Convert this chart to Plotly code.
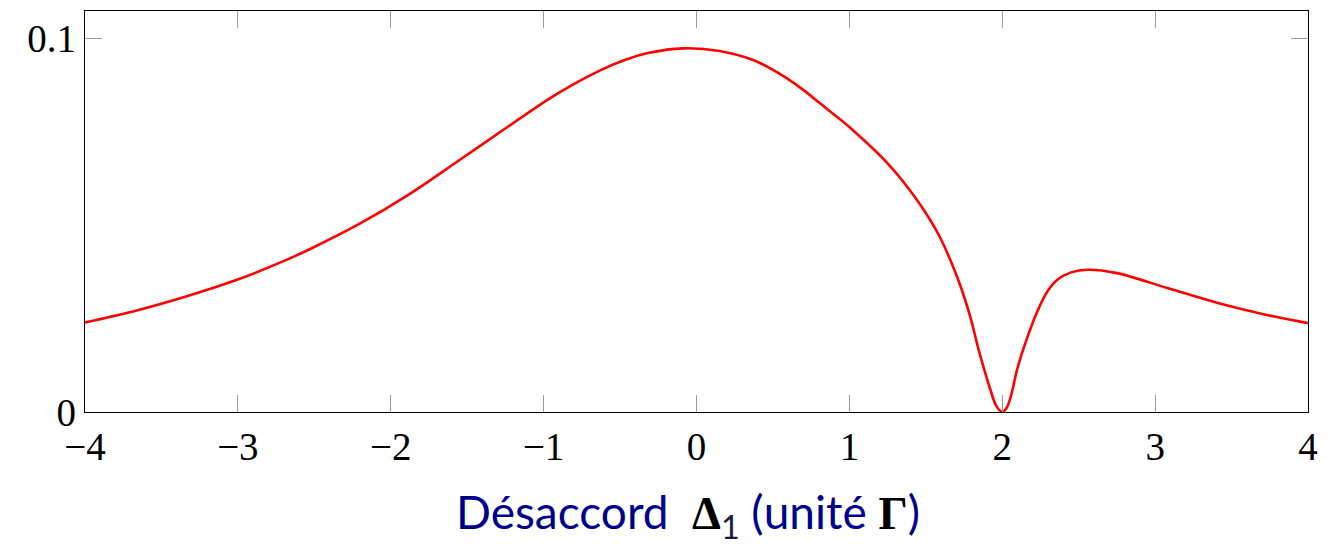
import plotly.graph_objects as go

# Detuning (units of Gamma) and absorption values along the probe scan
detuning = [-4.00, -3.68, -3.35, -3.02, -2.69, -2.50, -2.20, -1.88, -1.55, -1.22,
            -0.96, -0.80, -0.63, -0.47, -0.31, -0.09, 0.15, 0.37, 0.48, 0.59, 0.70, 0.81, 0.92, 1.02,
            1.25, 1.44, 1.59, 1.72, 1.79, 1.85, 1.92, 1.96, 2.00,
            2.03, 2.06, 2.10, 2.16, 2.23, 2.30, 2.36, 2.45, 2.56, 2.75, 3.08, 3.41, 3.73, 4.00]
absorption = [0.0240, 0.0270, 0.0308, 0.0352, 0.0406, 0.0442, 0.0505, 0.0583, 0.0675, 0.0768,
              0.0840, 0.0879, 0.0915, 0.0943, 0.0962, 0.0974, 0.0967, 0.0943, 0.0921, 0.0894, 0.0862, 0.0826, 0.0790, 0.0756,
              0.0666, 0.0569, 0.0470, 0.0345, 0.0256, 0.0160, 0.0063, 0.0017, 0.0000,
              0.0012, 0.0048, 0.0118, 0.0195, 0.0270, 0.0326, 0.0354, 0.0374, 0.0381, 0.0372, 0.0332, 0.0292, 0.0260, 0.0238]

x_ticks = [-4, -3, -2, -1, 0, 1, 2, 3, 4]
y_ticks = [0, 0.1]
y_tick_labels = ["0", "0.1"]

fig = go.Figure()
fig.add_trace(go.Scatter(
    x=detuning, y=absorption, mode="lines",
    line=dict(color="#ff0000", width=2.6, shape="spline", smoothing=1.0),
    showlegend=False, hoverinfo="skip",
))

tick_font = dict(family="Liberation Serif, Times New Roman, serif", size=39, color="black")

fig.update_xaxes(
    range=[-4, 4], tickvals=x_ticks, ticks="inside", ticklen=17, tickwidth=1,
    tickcolor="#9a9a9a", showline=True, linecolor="black", linewidth=1.4,
    mirror="ticks", showgrid=False, zeroline=False, tickfont=tick_font,
)
fig.update_yaxes(
    range=[0, 0.1074], tickvals=y_ticks, ticktext=y_tick_labels, ticks="inside",
    ticklen=17, tickwidth=1, tickcolor="#9a9a9a", showline=True, linecolor="black",
    linewidth=1.4, mirror="ticks", showgrid=False, zeroline=False, tickfont=tick_font,
)

title_text = (
    "Désaccord  "
    "<span style='font-family:Liberation Serif, serif;color:black;font-weight:bold'>Δ</span>"
    "<sub><span style='color:#1a1a40'>1</span></sub> (unité "
    "<span style='font-family:Liberation Serif, serif;color:black;font-weight:bold'>Γ</span>)"
)
fig.add_annotation(
    text=title_text, xref="paper", yref="paper", x=0.4928, y=-0.256,
    xanchor="center", yanchor="middle", showarrow=False,
    font=dict(family="Lato, Open Sans, sans-serif", size=46, color="#00008f"),
)

fig.update_layout(
    width=1337, height=547,
    margin=dict(l=85, r=29, t=11, b=135),
    paper_bgcolor="white", plot_bgcolor="white",
)

fig.write_html("out.html")
